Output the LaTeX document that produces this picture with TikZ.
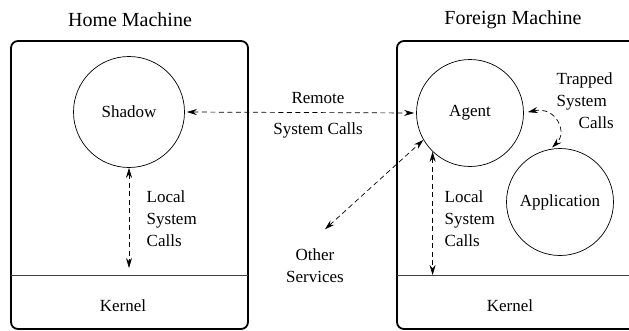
\documentclass[tikz,border=0pt]{standalone}
\usepackage{fontspec}
\setmainfont{Liberation Serif}
\usetikzlibrary{arrows.meta}
\tikzset{
  proc/.style={draw, circle, inner sep=0pt, minimum size=107pt},
  call/.style={dash pattern=on 5pt off 3.5pt, {Stealth[length=10pt,width=6pt]}-{Stealth[length=10pt,width=6pt]}},
  lbl/.style={font=\fontsize{17}{22}\selectfont},
  title/.style={font=\fontsize{20}{24}\selectfont}
}
\begin{document}
\begin{tikzpicture}[x=1pt,y=-1pt,line width=0.7pt]
\useasboundingbox (0,0) rectangle (629,330);
\draw [line width=1.8pt, rounded corners=7pt] (11,41) rectangle (248,329);
\draw [line width=1.8pt, rounded corners=7pt] (397,41) rectangle (640,329);
\draw [line width=0.6pt, black!75] (11,275) -- (248,275);
\draw [line width=0.6pt, black!75] (397,275) -- (629,275);
\coordinate (kl) at (129,268);
\coordinate (kr) at (433,275);
\coordinate (os) at (322,232);
\node [title] (home) at (130,20) {Home Machine};
\node [title] (foreign) at (513,20) {Foreign Machine};
\node [proc, minimum size=111pt, lbl] (shadow) at (129,112) {Shadow};
\node [proc, lbl] (agent) at (470,113) {Agent};
\node [proc, lbl] (app) at (560,202) {Application};
\node [lbl] (kernl) at (123,306) {Kernel};
\node [lbl] (kernr) at (510,306) {Kernel};
\draw [call, shorten <=2pt, shorten >=2pt] (shadow.east) -- (agent.west);
\node [lbl, align=center] (remote) at (318,115) {Remote\\[9pt]System Calls};
\draw [call] (shadow.south) -- (kl);
\node [lbl, align=left, anchor=west] (localh) at (143,219) {Local\\System\\Calls};
\draw [call] (agent.226) -- (agent.226 |- kr);
\node [lbl, align=left, anchor=west] (localf) at (441,219) {Local\\System\\Calls};
\draw [call, shorten <=4pt] (os) -- (agent.210);
\node [lbl, align=center] (other) at (315,266) {Other\\Services};
\draw [call, shorten <=4pt, shorten >=2pt] (agent.east) .. controls (556,106) and (568,132) .. (app.100);
\node [lbl, align=left, anchor=west] (trapped) at (553,101) {Trapped\\System\\\hspace*{22pt}Calls};
\end{tikzpicture}
\end{document}
